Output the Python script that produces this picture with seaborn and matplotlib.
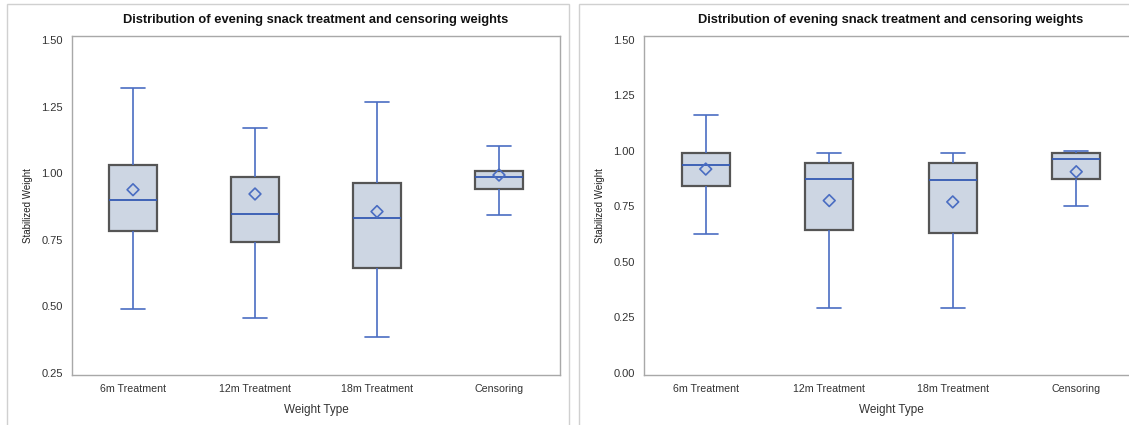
import pandas as pd
import matplotlib.pyplot as plt
import seaborn as sns
from matplotlib.patches import Rectangle

# five-number summaries (min, q1, median, q3, max) plus means
categories = ["6m Treatment", "12m Treatment", "18m Treatment", "Censoring"]

left_low = [0.491, 0.456, 0.386, 0.843]
left_q1 = [0.784, 0.742, 0.643, 0.942]
left_median = [0.898, 0.847, 0.831, 0.987]
left_q3 = [1.030, 0.985, 0.963, 1.008]
left_high = [1.319, 1.170, 1.268, 1.103]
left_mean = [0.938, 0.922, 0.856, 0.993]

right_low = [0.625, 0.293, 0.292, 0.750]
right_q1 = [0.840, 0.643, 0.628, 0.873]
right_median = [0.938, 0.873, 0.870, 0.965]
right_q3 = [0.992, 0.944, 0.944, 0.991]
right_high = [1.160, 0.992, 0.992, 1.000]
right_mean = [0.918, 0.776, 0.770, 0.906]

title = "Distribution of evening snack treatment and censoring weights"

sns.set_style("white")
plt.rcParams['font.family'] = ['Liberation Sans', 'DejaVu Sans']

FILL = "#CAD5E6"
BLUE = "#4A6DC2"
MED = "#3459B3"
EDGE = "#555555"
SPINE = "#A8A8A8"


def summary_frame(low, q1, med, q3, high):
    rows = []
    for i, cat in enumerate(categories):
        for v in (low[i], q1[i], med[i], q3[i], high[i]):
            rows.append({"Weight Type": cat, "weight": v})
    return pd.DataFrame(rows)


def draw_panel(ax, df, means, ylim, yticks):
    sns.boxplot(data=df, x="Weight Type", y="weight", order=categories, ax=ax,
                whis=(0, 100), width=0.39, color=FILL, linecolor=BLUE,
                linewidth=1.2, fliersize=0,
                boxprops=dict(edgecolor=EDGE, linewidth=1.6),
                medianprops=dict(color=MED, linewidth=1.3))
    n_before = len(ax.collections)
    sns.stripplot(x=categories, y=means, order=categories, ax=ax, jitter=False,
                  marker="D", size=6, color=BLUE, linewidth=1.2, edgecolor=BLUE)
    # hollow diamonds for the means
    for coll in ax.collections[n_before:]:
        coll.set_facecolor("none")
        coll.set_edgecolor(BLUE)

    ax.set_xlim(-0.5, 3.5)
    ax.set_ylim(*ylim)
    ax.set_yticks(yticks)
    ax.set_yticklabels([f"{t:.2f}" for t in yticks])
    ax.set_title(title, fontsize=9.3, fontweight="bold", pad=9, color="#111111")
    ax.set_xlabel("Weight Type", fontsize=8.5, color="#333333", labelpad=7)
    ax.set_ylabel("Stabilized Weight", fontsize=7, color="#222222", labelpad=6)
    ax.tick_params(axis="x", labelsize=7.7)
    ax.tick_params(axis="y", labelsize=8)
    ax.tick_params(axis="both", colors=SPINE, labelcolor="#333333",
                   length=3.5, width=0.8, direction="out", pad=3)
    for s in ax.spines.values():
        s.set_color(SPINE)
        s.set_linewidth(1.0)


fig = plt.figure(figsize=(11.29, 4.25), dpi=100)

# light frames around the two panels
fig.add_artist(Rectangle((7 / 1129, -0.1), 562 / 1129, 1.1 - 4 / 425,
                         transform=fig.transFigure, fill=False,
                         edgecolor="#D0D0D0", linewidth=1.0))
fig.add_artist(Rectangle((579 / 1129, -0.1), 0.6, 1.1 - 4 / 425,
                         transform=fig.transFigure, fill=False,
                         edgecolor="#D0D0D0", linewidth=1.0))

ax1 = fig.add_axes([72 / 1129, 1 - 375 / 425, 488 / 1129, 339 / 425])
ax2 = fig.add_axes([644 / 1129, 1 - 375 / 425, 494 / 1129, 339 / 425])

draw_panel(ax1, summary_frame(left_low, left_q1, left_median, left_q3, left_high),
           left_mean, (0.2425, 1.515), [0.25, 0.50, 0.75, 1.00, 1.25, 1.50])
draw_panel(ax2, summary_frame(right_low, right_q1, right_median, right_q3, right_high),
           right_mean, (-0.0104, 1.518), [0.00, 0.25, 0.50, 0.75, 1.00, 1.25, 1.50])

fig.savefig("out.png", dpi=100)
